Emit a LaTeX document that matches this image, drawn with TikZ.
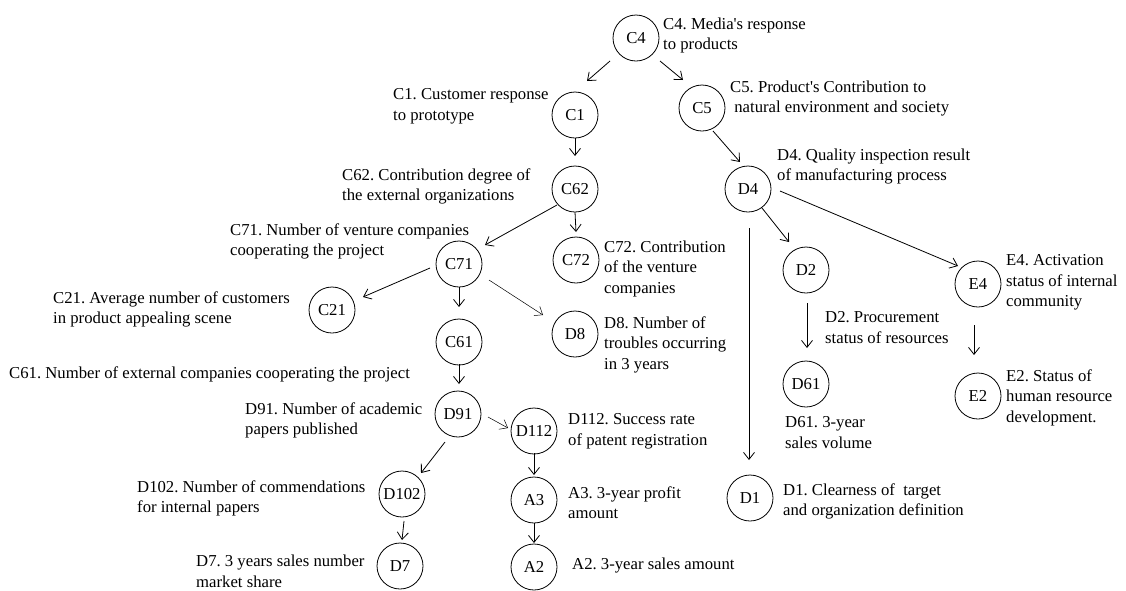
\documentclass[tikz,border=0pt]{standalone}
\usepackage{fontspec}
\setmainfont{Liberation Serif}
\usetikzlibrary{arrows.meta}
\frenchspacing

\tikzset{
  concept/.style={circle, draw, line width=0.8pt, minimum size=46pt, inner sep=0pt},
  lbl/.style={anchor=north west, inner sep=0pt, align=left},
  arr/.style={line width=0.8pt, -{Straight Barb[length=7pt,width=11pt]}},
  thinarr/.style={arr, line width=0.5pt},
}

\begin{document}
\begin{tikzpicture}[x=1pt, y=-1pt, font=\fontsize{16.7}{20.7}\selectfont]
\useasboundingbox (0,0) rectangle (1126,590);

% concept circles
\node[concept] (C4)   at (636,38)  {C4};
\node[concept] (C1)   at (575,115) {C1};
\node[concept] (C5)   at (702,108) {C5};
\node[concept] (C62)  at (575,189) {C62};
\node[concept] (D4)   at (748,189) {D4};
\node[concept] (C72)  at (576,260) {C72};
\node[concept] (C71)  at (459,264) {C71};
\node[concept] (C21)  at (332,310) {C21};
\node[concept] (D8)   at (575,334) {D8};
\node[concept] (C61)  at (459,342) {C61};
\node[concept] (D2)   at (806,270) {D2};
\node[concept] (D61)  at (806,384) {D61};
\node[concept] (E4)   at (978,284) {E4};
\node[concept] (E2)   at (978,396) {E2};
\node[concept] (D91)  at (458,414) {D91};
\node[concept] (D112) at (534,431) {D112};
\node[concept] (D102) at (402,494) {D102};
\node[concept] (A3)   at (534,500) {A3};
\node[concept] (D7)   at (400,566) {D7};
\node[concept] (A2)   at (534,567) {A2};
\node[concept] (D1)   at (750,498) {D1};

% descriptions
\node[lbl] (lC4)   at (663,17.3)  {C4. Media\textquotesingle s response\\to products};
\node[lbl] (lC1)   at (393,88.3)  {C1. Customer response\\to prototype};
\node[lbl] (lC5)   at (730,80.3)  {C5. Product\textquotesingle s Contribution to\\\ natural environment and society};
\node[lbl] (lC62)  at (342,168.3) {C62. Contribution degree of\\the external organizations};
\node[lbl] (lC71)  at (230,223.3) {C71. Number of venture companies\\cooperating the project};
\node[lbl] (lC72)  at (604,240.3) {C72. Contribution\\of the venture\\companies};
\node[lbl] (lC21)  at (53,291.3)  {C21. Average number of customers\\in product appealing scene};
\node[lbl] (lD8)   at (604,316.3) {D8. Number of\\troubles occurring\\in 3 years};
\node[lbl] (lC61)  at (9,366.3)   {C61. Number of external companies cooperating the project};
\node[lbl] (lD4)   at (777,148.3) {D4. Quality inspection result\\of manufacturing process};
\node[lbl] (lD2)   at (825,311.3) {D2. Procurement\\status of resources};
\node[lbl] (lD61)  at (785,416.3) {D61. 3-year\\sales volume};
\node[lbl] (lE4)   at (1006,254.3) {E4. Activation\\status of internal\\community};
\node[lbl] (lE2)   at (1006,369.3) {E2. Status of\\human resource\\development.};
\node[lbl] (lD91)  at (245,402.3) {D91. Number of academic\\papers published};
\node[lbl] (lD112) at (568,413.3) {D112. Success rate\\of patent registration};
\node[lbl] (lD102) at (137,480.3) {D102. Number of commendations\\for internal papers};
\node[lbl] (lA3)   at (568,486.3) {A3. 3-year profit\\amount};
\node[lbl] (lD7)   at (196,554.5) {D7. 3 years sales number\\market share};
\node[lbl] (lA2)   at (572,557.3) {A2. 3-year sales amount};
\node[lbl] (lD1)   at (783,483.3) {D1. Clearness of\ \ target\\and organization definition};

% connectors
\draw[arr] ([shift={(-26,23)}]C4.center) -- ([shift={(12,-34)}]C1.center);
\draw[arr] ([shift={(24,23)}]C4.center) -- ([shift={(-19,-28)}]C5.center);
\draw[arr] ([shift={(0,23)}]C1.center) -- ([shift={(0,-33)}]C62.center);
\draw[arr] ([shift={(11,23)}]C5.center) -- ([shift={(-8,-27)}]D4.center);
\draw[arr] ([shift={(-18,16)}]C62.center) -- ([shift={(26,-19)}]C71.center);
\draw[arr] ([shift={(0,23)}]C62.center) -- ([shift={(0,-28)}]C72.center);
\draw[arr] ([shift={(14,19)}]D4.center) -- ([shift={(-17,-28)}]D2.center);
\draw[arr] ([shift={(32,2)}]D4.center) -- ([shift={(-20,-18)}]E4.center);
\draw[arr] ([shift={(1,39)}]D4.center) -- ([shift={(-1,-38)}]D1.center);
\draw[arr] ([shift={(-29,4)}]C71.center) -- ([shift={(31,-13)}]C21.center);
\draw[arr] ([shift={(0,23)}]C71.center) -- ([shift={(0,-35)}]C61.center);
\draw[thinarr] ([shift={(30,16)}]C71.center) -- ([shift={(-32,-19)}]D8.center);
\draw[arr] ([shift={(1,33)}]D2.center) -- ([shift={(1,-36)}]D61.center);
\draw[arr] ([shift={(-4,41)}]E4.center) -- ([shift={(-4,-41)}]E2.center);
\draw[arr] ([shift={(0,22)}]C61.center) -- ([shift={(1,-30)}]D91.center);
\draw[thinarr] ([shift={(30,3)}]D91.center) -- ([shift={(-26,-3)}]D112.center);
\draw[arr] ([shift={(-13,28)}]D91.center) -- ([shift={(19,-21)}]D102.center);
\draw[arr] ([shift={(0,22)}]D112.center) -- ([shift={(0,-25)}]A3.center);
\draw[arr] ([shift={(0,23)}]A3.center) -- ([shift={(0,-24)}]A2.center);
\draw[arr] ([shift={(2,27)}]D102.center) -- ([shift={(2,-26)}]D7.center);
\end{tikzpicture}
\end{document}
